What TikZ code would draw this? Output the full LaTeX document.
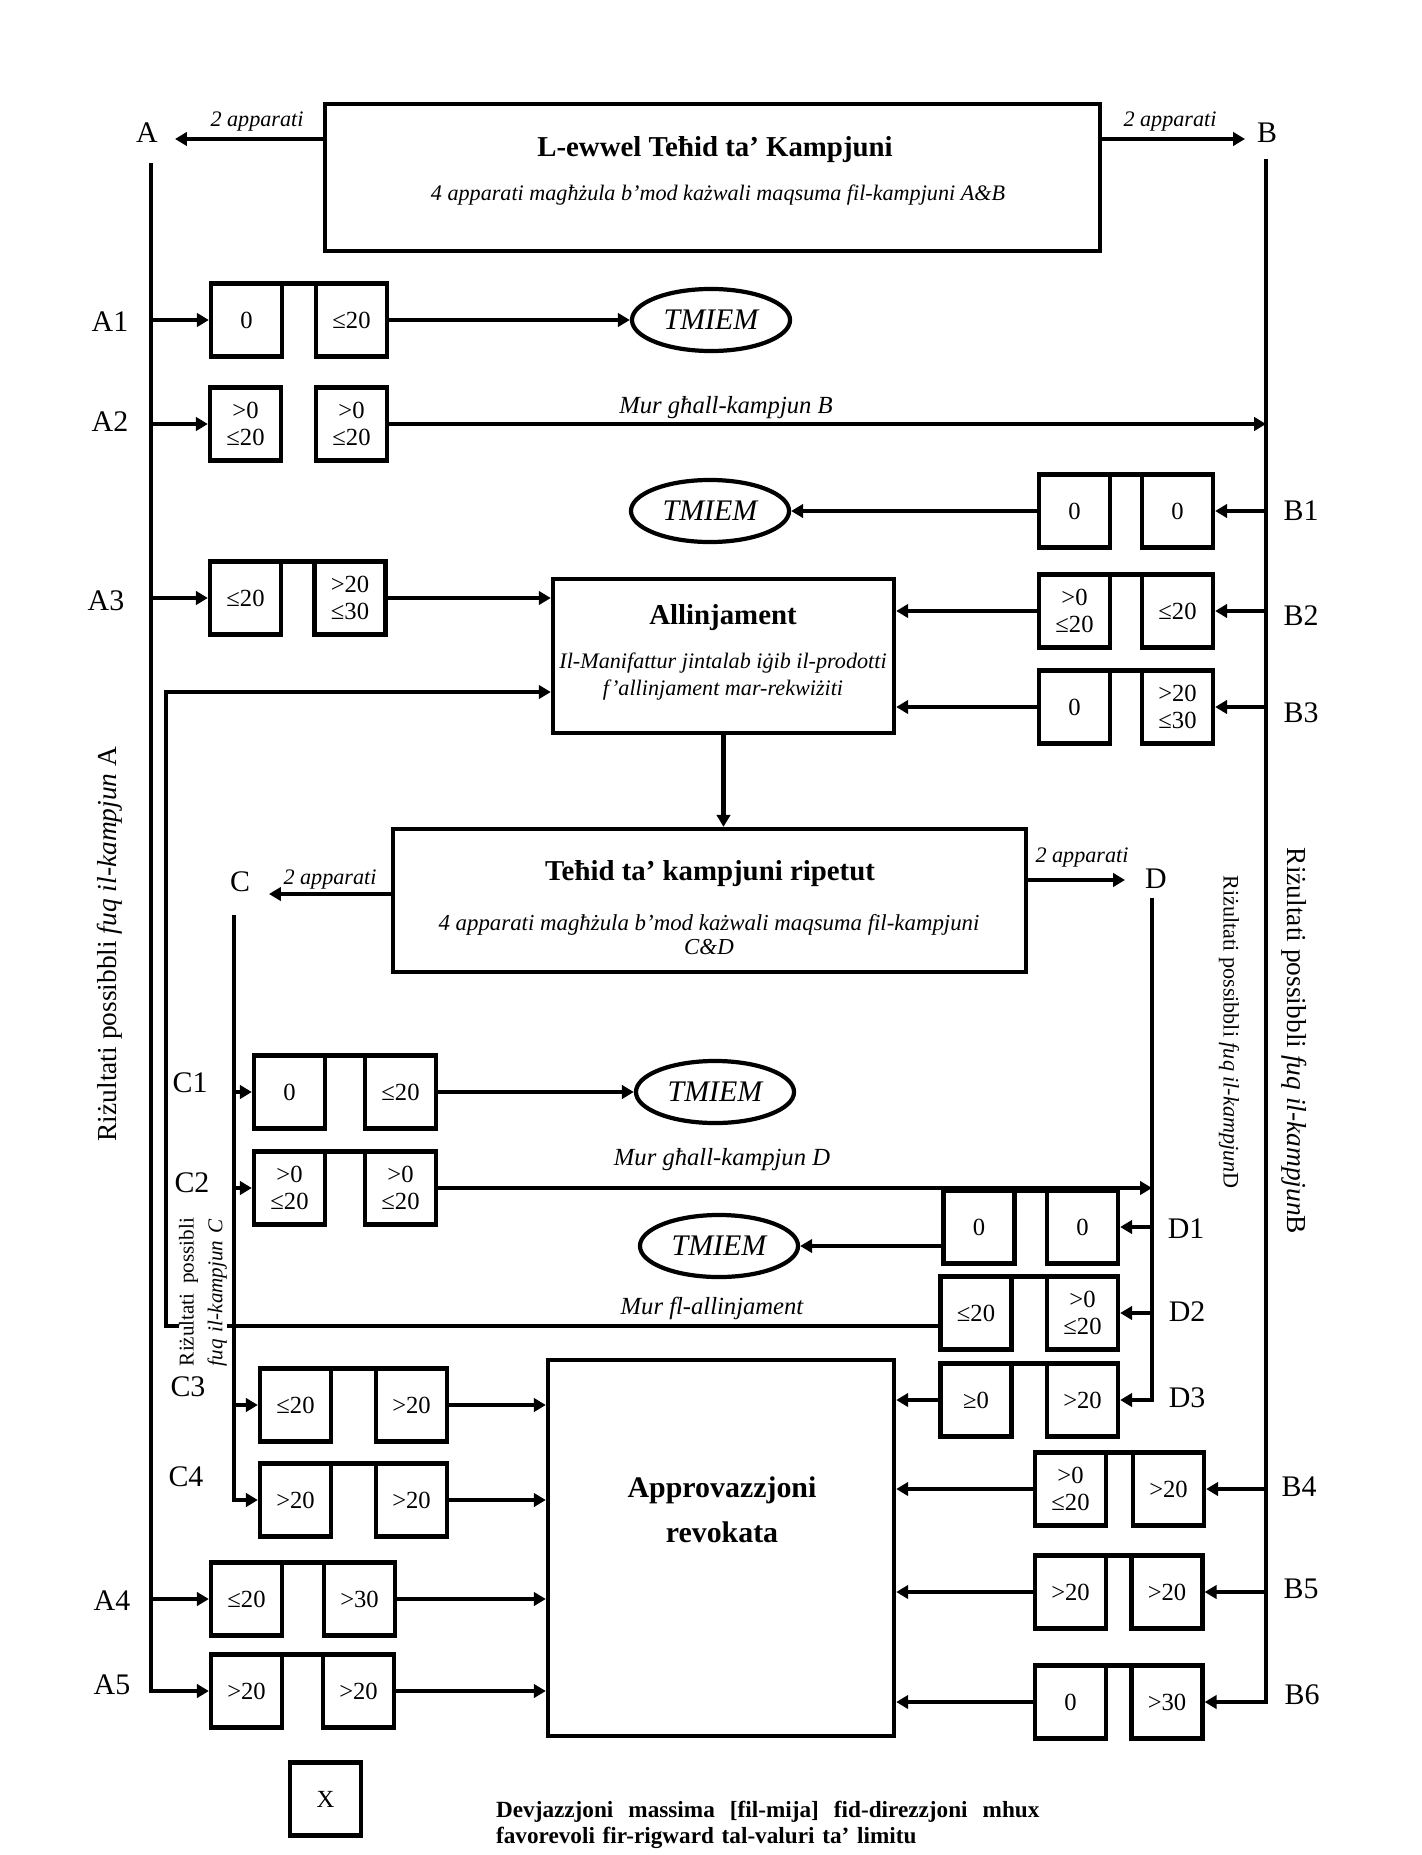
\documentclass[tikz,border=0pt]{standalone}
\usepackage{fontspec}
\setmainfont{Liberation Serif}
\usetikzlibrary{arrows.meta, positioning, calc, shapes.geometric}

\begin{document}
\begin{tikzpicture}[x=0.01cm, y=-0.01cm, line width=1.2pt,
        valbox/.style={draw, minimum width=0.71cm, minimum height=0.73cm, inner sep=0pt,
                       align=center, font=\fontsize{7}{7.6}\selectfont},
        endoval/.style={ellipse, draw, minimum width=1.58cm, minimum height=0.62cm, inner sep=0pt,
                        font=\fontsize{8.5}{9}\selectfont\itshape},
        bigbox/.style={draw, inner sep=0pt},
        lbl/.style={font=\fontsize{8.5}{10}\selectfont},
        appnote/.style={font=\fontsize{6.3}{7}\selectfont\itshape},
        murnote/.style={font=\fontsize{7}{8}\selectfont\itshape},
        arr/.style={-{Triangle[length=3.4pt, width=3.8pt]}}]
    \useasboundingbox (0,0) rectangle (1422,1855);

    % big boxes
    \node[bigbox, minimum width=7.75cm, minimum height=1.47cm] (first) at (712.5,177.5) {};
    \node[font=\fontsize{8.2}{9}\selectfont\bfseries] (firsttitle) at (715,150) {L-ewwel Teħid ta’ Kampjuni};
    \node[font=\fontsize{6.3}{7}\selectfont\itshape] (firstsub) at (718,195)
        {4 apparati magħżula b’mod każwali maqsuma fil-kampjuni A\&B};

    \node[bigbox, minimum width=3.41cm, minimum height=1.54cm] (allin) at (723.5,656) {};
    \node[font=\fontsize{8.2}{9}\selectfont\bfseries] (allintitle) at (723,618) {Allinjament};
    \node[font=\fontsize{6.3}{7.7}\selectfont\itshape, align=center] (allinsub) at (723,677)
        {Il-Manifattur jintalab iġib il-prodotti\\f’allinjament mar-rekwiżiti};

    \node[bigbox, minimum width=6.33cm, minimum height=1.43cm] (rep) at (709.5,900.5) {};
    \node[font=\fontsize{8.2}{9}\selectfont\bfseries] (reptitle) at (710,874) {Teħid ta’ kampjuni ripetut};
    \node[font=\fontsize{6.5}{6.8}\selectfont\itshape, align=center] (repsub) at (709,935)
        {4 apparati magħżula b’mod każwali maqsuma fil-kampjuni\\C\&D};

    \node[bigbox, minimum width=3.46cm, minimum height=3.76cm] (approv) at (721,1548) {};
    \node[font=\fontsize{8.5}{12.8}\selectfont\bfseries, align=center] (approvtitle) at (722,1510)
        {Approvazzjoni\\revokata};

    % end ovals
    \node[endoval] (tmA) at (711,320) {TMIEM};
    \node[endoval] (tmB) at (710,511) {TMIEM};
    \node[endoval] (tmC) at (715,1092) {TMIEM};
    \node[endoval] (tmD) at (719,1246) {TMIEM};

    % pairs of result boxes
    \foreach \nm/\xl/\xr/\y/\tl/\tr in {
        a1/246.5/351.5/320/0/≤20, a2/245.5/351.5/424/{>0\\≤20}/{>0\\≤20},
        a3/245.5/350/598/≤20/{>20\\≤30}, a4/246.5/359.5/1599/≤20/>30,
        a5/246.5/358.5/1691/>20/>20,
        b1/1074.5/1177.5/511/0/0, b2/1074.5/1177.5/611/{>0\\≤20}/≤20,
        b3/1074.5/1177.5/707/0/{>20\\≤30}, b4/1070.5/1168.5/1489/{>0\\≤20}/>20,
        b5/1070.5/1167/1592/>20/>20, b6/1070.5/1167/1702/0/>30,
        c1/289.5/400.5/1092/0/≤20, c2/289.5/400.5/1188/{>0\\≤20}/{>0\\≤20},
        c3/295.5/411.5/1405/≤20/>20, c4/295.5/411.5/1500/>20/>20,
        d1/979/1082.5/1227/0/0, d2/976/1082.5/1313/≤20/{>0\\≤20},
        d3/976/1082.5/1400/≥0/>20}
    {
        \node[valbox] (\nm-L) at (\xl,\y) {\tl};
        \node[valbox] (\nm-R) at (\xr,\y) {\tr};
    }
    \foreach \nm in {a1,a3,a4,a5,b1,b2,b3,b4,b5,b6,c1,c2,c3,c4,d1,d2,d3}
        \draw ([yshift=-0.6pt]\nm-L.north east) -- ([yshift=-0.6pt]\nm-R.north west);

    % row labels
    \foreach \nm/\x/\y in {A1/110/322, A2/110/422, A3/106/601, A4/112/1601, A5/112/1685,
        B1/1301/511, B2/1301/616, B3/1301/713, B4/1299/1487, B5/1301/1589, B6/1302/1695,
        C1/190/1083, C2/192/1183, C3/188/1387, C4/186/1477,
        D1/1186/1229, D2/1187/1312, D3/1187/1398}
        \node[lbl] (lab\nm) at (\x,\y) {\nm};

    % split into A, B, C, D
    \node[lbl] (labA) at (147,133) {A};
    \node[lbl] (labB) at (1267,133) {B};
    \node[lbl] (labC) at (240,882) {C};
    \node[lbl] (labD) at (1156,879) {D};
    \coordinate (tipA) at (175,139);
    \coordinate (tipB) at (1245,139);
    \coordinate (tipC) at (269,894);
    \coordinate (tipD) at (1125,880);
    \draw[arr] (first.west |- tipA) -- (tipA);
    \draw[arr] (first.east |- tipB) -- (tipB);
    \draw[arr] (rep.west |- tipC) -- (tipC);
    \draw[arr] (rep.east |- tipD) -- (tipD);
    \node[appnote] (appA) at (257,122) {2 apparati};
    \node[appnote] (appB) at (1170,122) {2 apparati};
    \node[appnote] (appC) at (330,880) {2 apparati};
    \node[appnote] (appD) at (1082,858) {2 apparati};

    % vertical result lines
    \coordinate (topA) at (151,163);
    \coordinate (topB) at (1266,159);
    \coordinate (topC) at (234,915);
    \coordinate (topD) at (1152,898);
    \draw[arr] (topA) |- (a5-L.west);
    \draw[arr] (topB) |- (b6-R.east);
    \draw[arr] (topC) |- (c4-L.west);
    \draw[arr] (topD) |- (d3-R.east);
    \foreach \nm in {a1,a2,a3,a4}
        \draw[arr] (topA |- \nm-L.west) -- (\nm-L.west);
    \foreach \nm in {b1,b2,b3,b4,b5}
        \draw[arr] (topB |- \nm-R.east) -- (\nm-R.east);
    \foreach \nm in {c1,c2,c3}
        \draw[arr] (topC |- \nm-L.west) -- (\nm-L.west);
    \foreach \nm in {d1,d2}
        \draw[arr] (topD |- \nm-R.east) -- (\nm-R.east);

    % outcomes
    \draw[arr] (a1-R.east) -- (tmA.west);
    \draw[arr] (a2-R.east) -- (topB |- a2-R.east);
    \node[murnote] (murB) at (726,408) {Mur għall-kampjun B};
    \draw[arr] (a3-R.east) -- (allin.west |- a3-R.east);
    \draw[arr] (b1-L.west) -- (tmB.east);
    \draw[arr] (b2-L.west) -- (allin.east |- b2-L.west);
    \draw[arr] (b3-L.west) -- (allin.east |- b3-L.west);
    \draw[arr] (allin.south) -- (allin.south |- rep.north);
    \draw[arr] (c1-R.east) -- (tmC.west);
    \draw[arr] (c2-R.east) -- (topD |- c2-R.east);
    \node[murnote] (murD) at (722,1160) {Mur għall-kampjun D};
    \draw[arr] (d1-L.west |- tmD) -- (tmD.east);
    \coordinate (back) at (166,1326);
    \draw[arr] (d2-L.west |- back) -- (back) |- ([yshift=-0.36cm]allin.west);
    \node[murnote] (murall) at (712,1308) {Mur fl-allinjament};
    \draw[arr] (d3-L.west) -- (approv.east |- d3-L.west);
    \foreach \nm in {c3,c4,a4,a5}
        \draw[arr] (\nm-R.east) -- (approv.west |- \nm-R.east);
    \foreach \nm in {b4,b5,b6}
        \draw[arr] (\nm-L.west) -- (approv.east |- \nm-L.west);

    % side texts
    \node[rotate=90, font=\fontsize{7.8}{9}\selectfont] (sideA) at (110,944)
        {Riżultati possibbli \textit{fuq il-kampjun} A};
    \node[rotate=-90, font=\fontsize{7.8}{9}\selectfont] (sideB) at (1294,1041)
        {Riżultati possibbli \textit{fuq il-kampjun}B};
    \node[rotate=-90, font=\fontsize{6.3}{8}\selectfont] (sideD) at (1229,1032)
        {Riżultati possibbli \textit{fuq il-kampjun}D};
    \node[rotate=90, fill=white, inner sep=0pt, text width=1.48cm, align=left,
          font=\fontsize{6}{8.2}\selectfont] (sideC) at (203,1292)
        {Riżultati\hfill possibli\\\textit{fuq il-kampjun C}};

    % legend
    \node[valbox] (legbox) at (325.5,1799) {X};
    \node[anchor=west, text width=5.43cm, align=left, inner sep=0pt,
          font=\fontsize{6.6}{7.4}\selectfont\bfseries] (legtext) at (494,1825)
        {Devjazzjoni\hfill massima\hfill [fil-mija]\hfill fid-direzzjoni\hfill mhux\\
         favorevoli fir-rigward tal-valuri ta’ limitu};
\end{tikzpicture}
\end{document}
